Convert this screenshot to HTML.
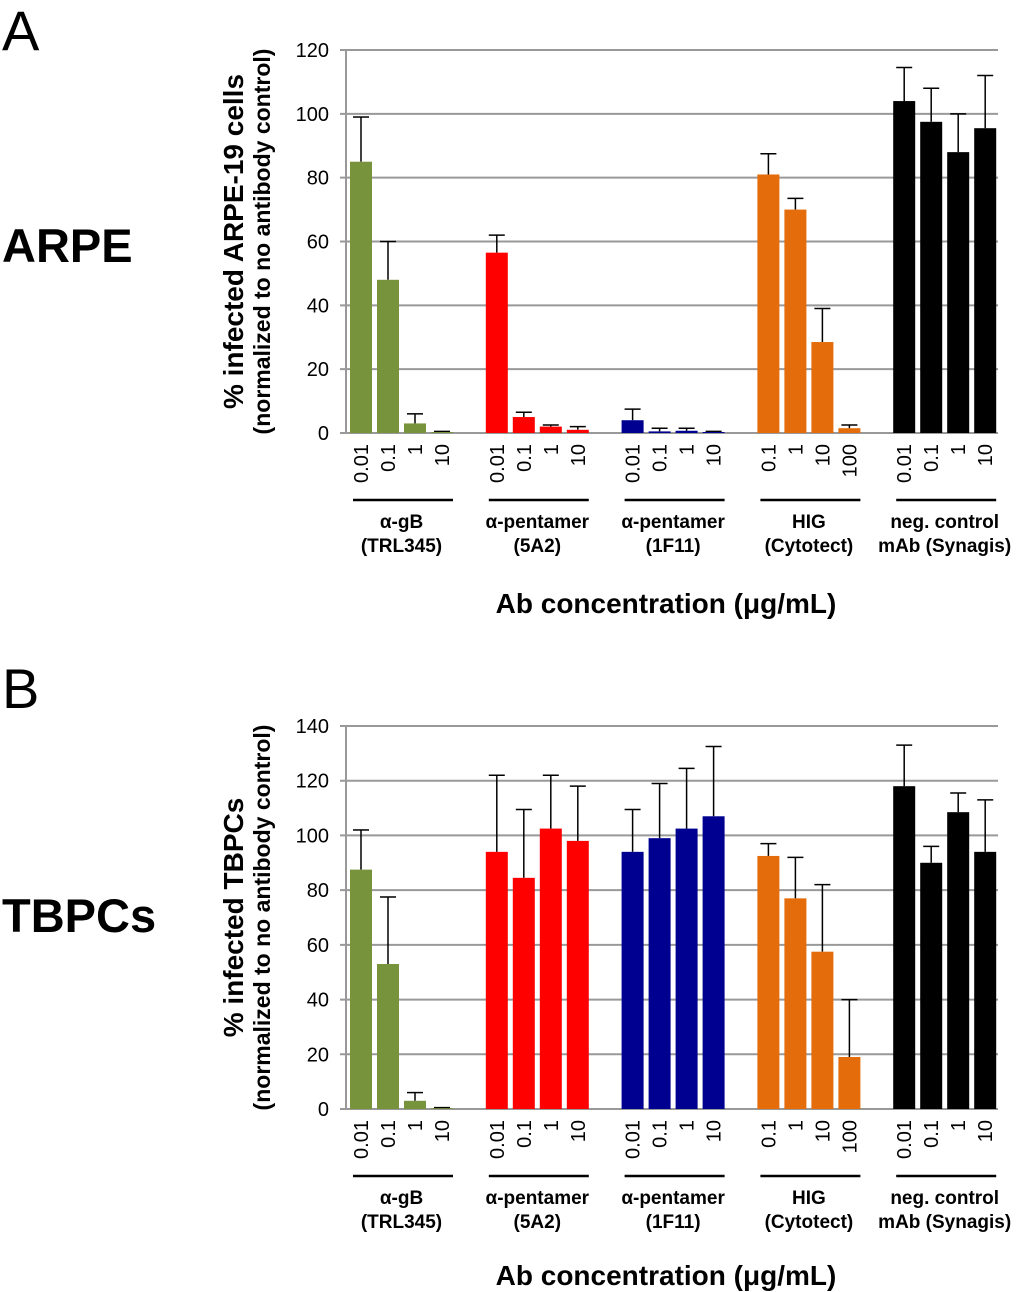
<!DOCTYPE html>
<html><head><meta charset="utf-8"><style>
body{margin:0;background:#fff;}
svg{display:block;font-family:"Liberation Sans",Arial,sans-serif;}
</style></head><body>
<svg id="chart" width="1024" height="1292" viewBox="0 0 1024 1292">
<text x="2" y="50" font-size="56">A</text>
<text x="2" y="262" font-size="47" font-weight="bold">ARPE</text>
<text x="2" y="708" font-size="56">B</text>
<text x="2" y="932" font-size="47" font-weight="bold">TBPCs</text>
</svg>
<script>
const groups=[["α-gB","(TRL345)"],["α-pentamer","(5A2)"],["α-pentamer","(1F11)"],["HIG","(Cytotect)"],["neg. control","mAb (Synagis)"]];
const colors=["#77933c","#ff0000","#000090","#e46c0a","#000000"];
const concLabels=[["0.01","0.1","1","10"],["0.01","0.1","1","10"],["0.01","0.1","1","10"],["0.1","1","10","100"],["0.01","0.1","1","10"]];
const valuesA=[[85,48,3,0.3],[56.5,5,2,1],[4,0.5,0.7,0.3],[81,70,28.5,1.5],[104,97.5,88,95.5]];
const errTopA=[[99,60,6,0.5],[62,6.5,2.5,2],[7.5,1.5,1.5,0.5],[87.5,73.5,39,2.5],[114.5,108,100,112]];
const valuesB=[[87.5,53,3,0.3],[94,84.5,102.5,98],[94,99,102.5,107],[92.5,77,57.5,19],[118,90,108.5,94]];
const errTopB=[[102,77.5,6,0.5],[122,109.5,122,118],[109.5,119,124.5,132.5],[97,92,82,40],[133,96,115.5,113]];
const ticksA=[0,20,40,60,80,100,120];
const ticksB=[0,20,40,60,80,100,120,140];
const svg=document.getElementById('chart');
const NS="http://www.w3.org/2000/svg";
function mk(tag,attrs,txt){const e=document.createElementNS(NS,tag);for(const k in attrs)e.setAttribute(k,attrs[k]);if(txt!==undefined)e.textContent=txt;svg.appendChild(e);return e;}
function panel(p,vals,errs,ticks,y0,ymaxPx,ymax,titleY,title2){
  const x0=346,x1=998;
  const ys=v=>y0-(v/ymax)*(y0-ymaxPx);
  const xs=(g,j)=>361+g*135.8+j*27;
  ticks.forEach(t=>{
    const l=mk('line',{x1:x0-6,x2:x1,y1:ys(t),y2:ys(t),stroke:'#999','stroke-width':2});
    
    
    const tx=mk('text',{x:329,y:ys(t)+7,'font-size':20,'text-anchor':'end'},t);
    
    
  });
  const ax=mk('line',{x1:x0,x2:x0,y1:ys(ticks[ticks.length-1]),y2:y0,stroke:'#999','stroke-width':2});
  
  
  vals.forEach((gv,g)=>{
    gv.forEach((v,j)=>{
      const cx=xs(g,j);
      const e=errs[g][j];
      const el=mk('line',{x1:cx,x2:cx,y1:ys(e),y2:ys(v),stroke:'#000','stroke-width':1.5});
      
      
      const cap=mk('line',{x1:cx-8,x2:cx+8,y1:ys(e),y2:ys(e),stroke:'#000','stroke-width':1.5});
      
      
      const r=mk('rect',{x:cx-11,y:ys(v),width:22,height:y0-ys(v),fill:colors[g]});
      
      
      const lt=mk('text',{x:0,y:0,'font-size':20,'text-anchor':'end',transform:`translate(${cx+7},${y0+11}) rotate(-90)`},concLabels[g][j]);
      
      
    });
    const gc=(xs(g,0)+xs(g,3))/2;
    const ul=mk('line',{x1:xs(g,0)-8,x2:xs(g,3)+11,y1:y0+67,y2:y0+67,stroke:'#000','stroke-width':2.5});
    
    
    const g1=mk('text',{x:gc,y:y0+95,'font-size':19,'font-weight':'bold','text-anchor':'middle'},groups[g][0]);
    
    
    const g2=mk('text',{x:gc,y:y0+119,'font-size':19,'font-weight':'bold','text-anchor':'middle'},groups[g][1]);
    
    
  });
  const xt=mk('text',{x:666,y:titleY,'font-size':28,'font-weight':'bold','text-anchor':'middle'},'Ab concentration (μg/mL)');
  
  
  const yc=(ys(ticks[ticks.length-1])+y0)/2;
  const t1=mk('text',{x:0,y:0,'font-size':28,'font-weight':'bold','text-anchor':'middle',transform:`translate(243,${yc}) rotate(-90)`},title2[0]);
  
  
  const t2=mk('text',{x:0,y:0,'font-size':23,'font-weight':'bold','text-anchor':'middle',transform:`translate(270,${yc}) rotate(-90)`},title2[1]);
  
  
}
panel('panel-a',valuesA,errTopA,ticksA,433,50,120,613,['% infected ARPE-19 cells','(normalized to no antibody control)']);
panel('panel-b',valuesB,errTopB,ticksB,1109,726,140,1285,['% infected TBPCs','(normalized to no antibody control)']);
</script>
</body></html>
